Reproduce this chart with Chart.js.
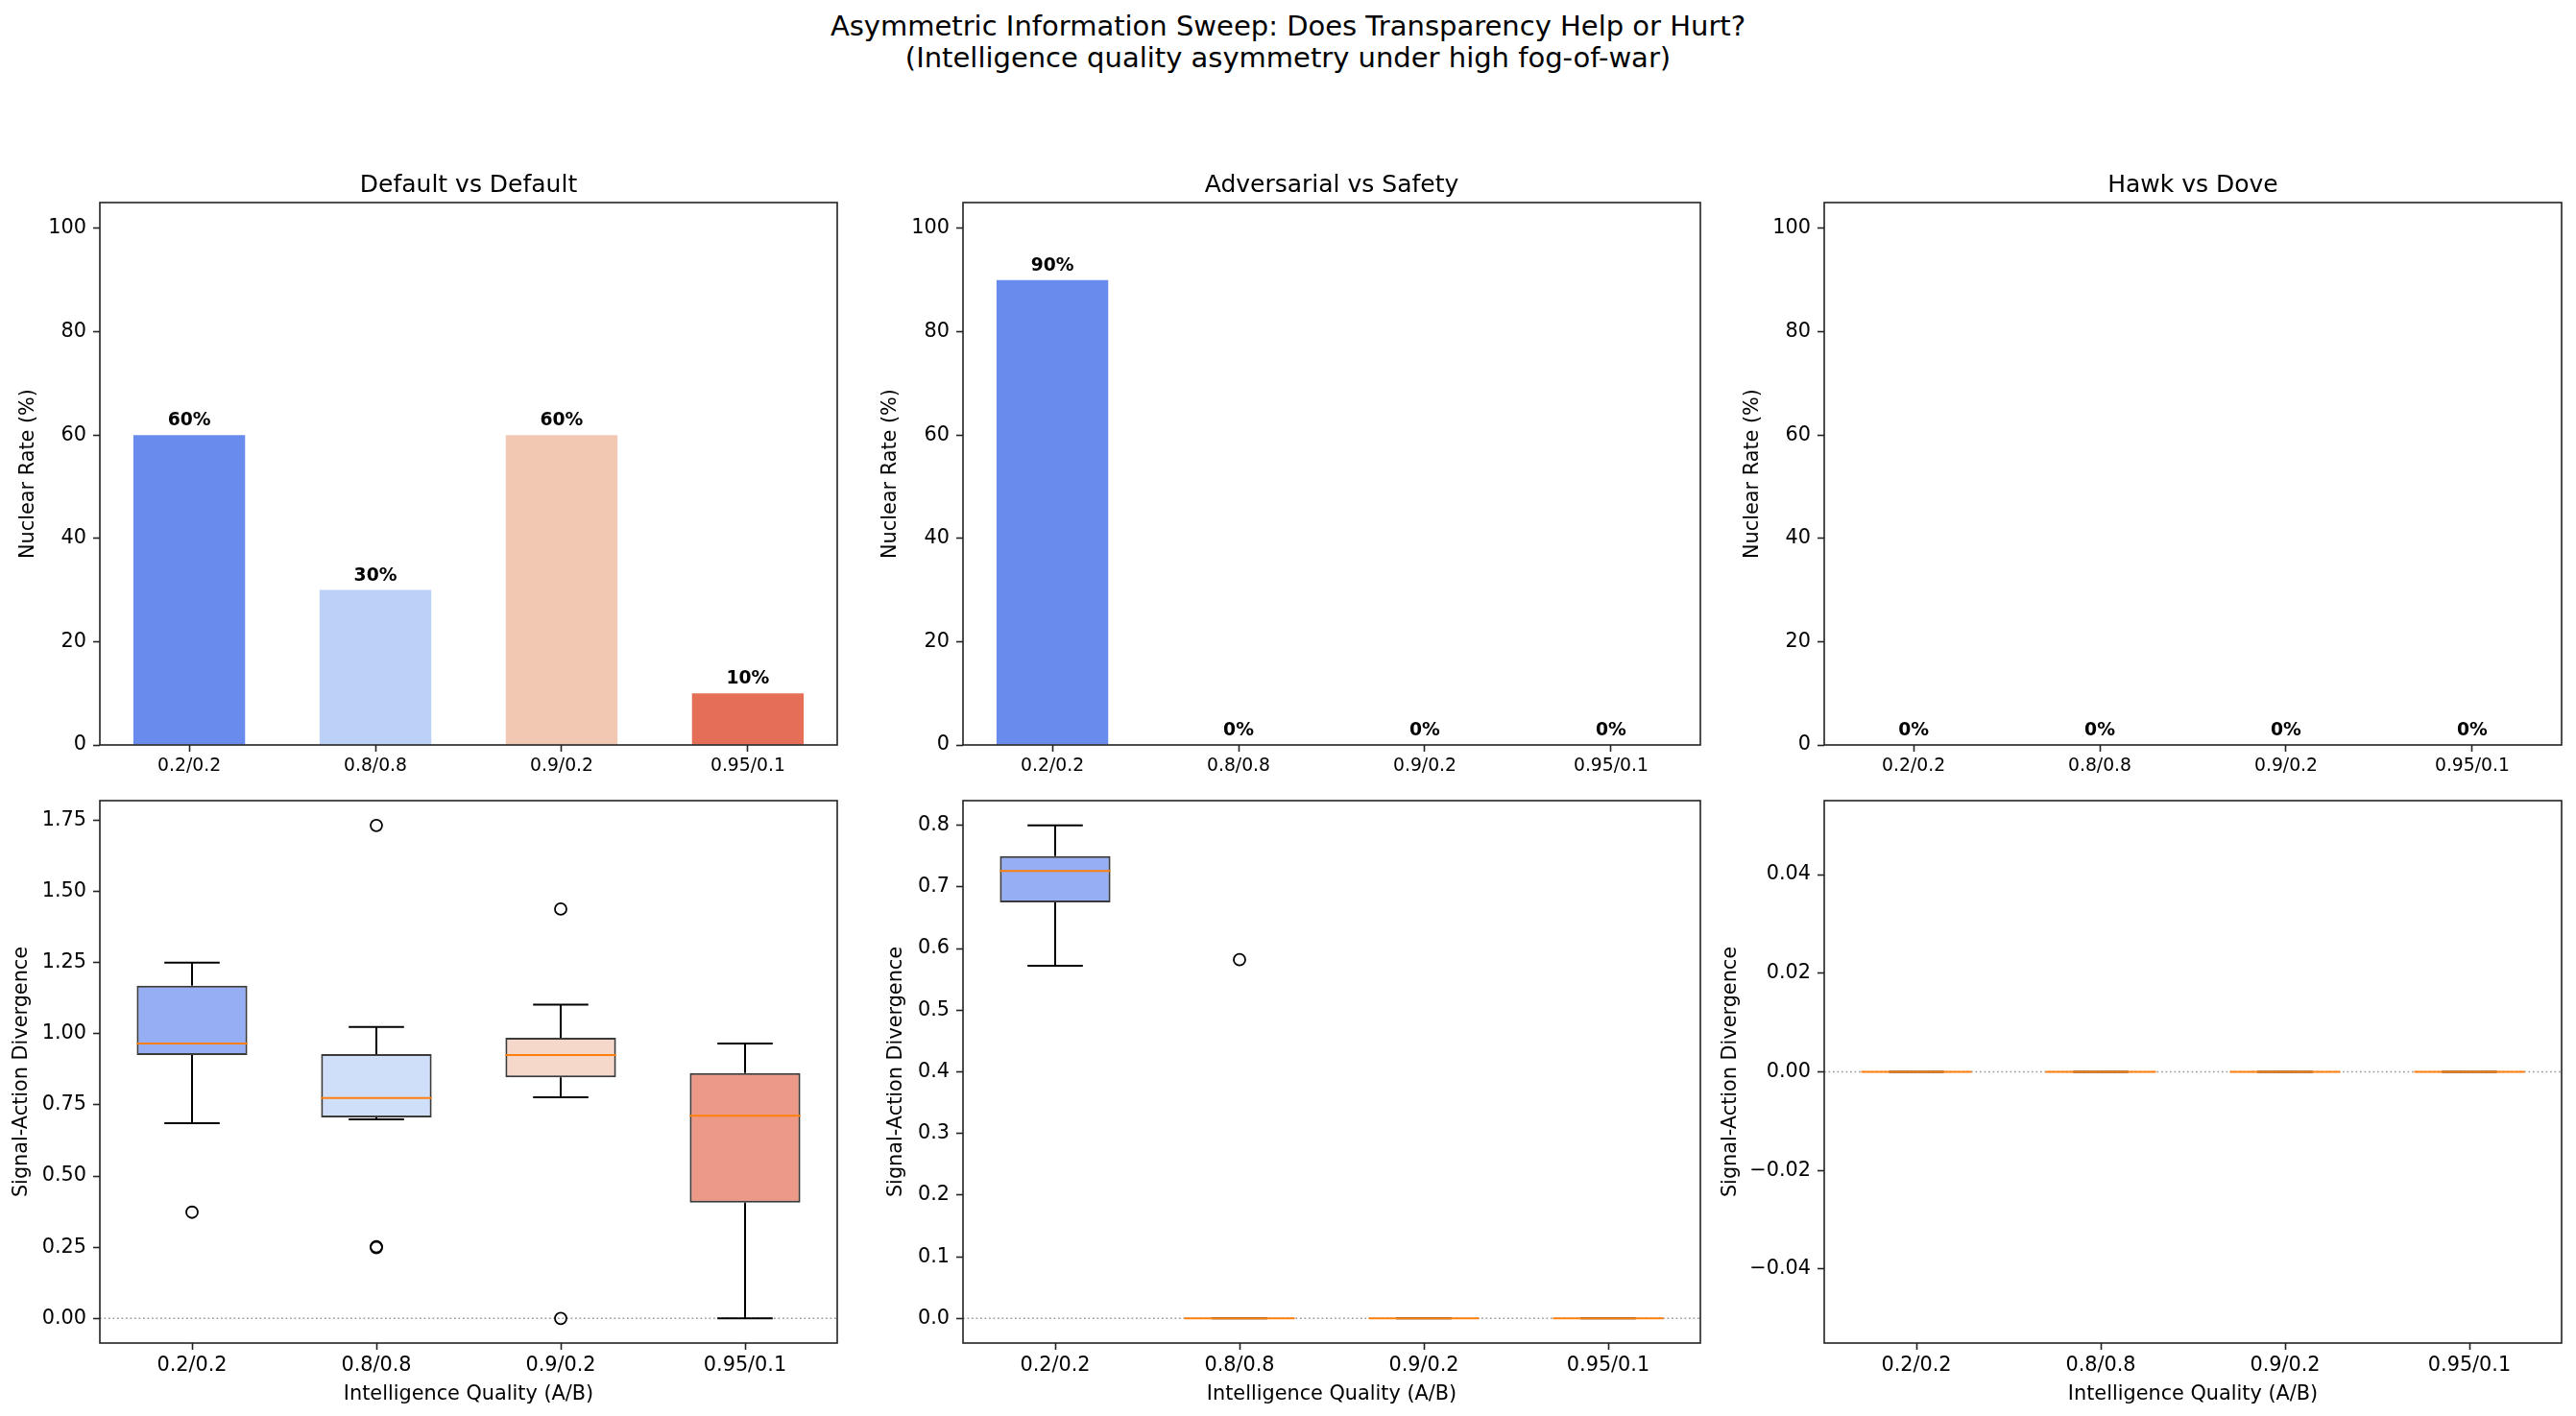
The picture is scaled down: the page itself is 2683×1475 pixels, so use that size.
<!DOCTYPE html>
<html lang="en">
<head>
<meta charset="UTF-8">
<title>Asymmetric Information Sweep</title>
<script src="https://cdn.jsdelivr.net/npm/chart.js"></script>
<style>
  body { margin: 0; background: #fff; width: 2683px; height: 1475px; position: relative; overflow: hidden;
         font-family: "DejaVu Sans", sans-serif; color: #000; }
  .sup { position: absolute; left: 0; top: 11px; width: 2683px; text-align: center; font-size: 29px; line-height: 33px; }
  .ttl { position: absolute; width: 768px; text-align: center; font-size: 25px; line-height: 30px; }
  canvas { position: absolute; }
</style>
</head>
<body>
<div class="sup">Asymmetric Information Sweep: Does Transparency Help or Hurt?<br>(Intelligence quality asymmetry under high fog-of-war)</div>

<script>
// ---- data ----
const pairs = ['0.2/0.2', '0.8/0.8', '0.9/0.2', '0.95/0.1'];
const panelTitles = ['Default vs Default', 'Adversarial vs Safety', 'Hawk vs Dove'];

const nuclearDefault = [60, 30, 60, 10];
const nuclearAdvSafety = [90, 0, 0, 0];
const nuclearHawkDove = [0, 0, 0, 0];
const nuclearTicks = [0, 20, 40, 60, 80, 100];

// signal-action divergence boxes: whisker low, q1, median, q3, whisker high
const divDefaultLow = [0.686, 0.699, 0.777, 0.0];
const divDefaultQ1 = [0.925, 0.706, 0.847, 0.407];
const divDefaultMed = [0.966, 0.774, 0.925, 0.712];
const divDefaultQ3 = [1.169, 0.929, 0.986, 0.862];
const divDefaultHigh = [1.250, 1.024, 1.102, 0.966];
const divDefaultOut = [[0.373], [1.732, 0.249, 0.252], [1.438, 0.0], []];
const divDefaultTicks = [0, 0.25, 0.5, 0.75, 1.0, 1.25, 1.5, 1.75];

const divAdvLow = [0.572, 0, 0, 0];
const divAdvQ1 = [0.675, 0, 0, 0];
const divAdvMed = [0.726, 0, 0, 0];
const divAdvQ3 = [0.750, 0, 0, 0];
const divAdvHigh = [0.800, 0, 0, 0];
const divAdvOut = [[], [0.582], [], []];
const divAdvTicks = [0, 0.1, 0.2, 0.3, 0.4, 0.5, 0.6, 0.7, 0.8];

const divHawkLow = [0, 0, 0, 0];
const divHawkQ1 = [0, 0, 0, 0];
const divHawkMed = [0, 0, 0, 0];
const divHawkQ3 = [0, 0, 0, 0];
const divHawkHigh = [0, 0, 0, 0];
const divHawkOut = [[], [], [], []];
const divHawkTicks = [-0.04, -0.02, 0, 0.02, 0.04];

// ---- look ----
const barColors = ['rgb(106,139,238)', 'rgb(187,209,248)', 'rgb(242,200,179)', 'rgb(228,110,86)'];
const boxColors = ['rgba(106,139,238,0.7)', 'rgba(187,209,248,0.7)', 'rgba(242,200,179,0.7)', 'rgba(228,110,86,0.7)'];

const COLS = [104, 1003, 1900];
const ROWS = [211, 834];
const AX_W = 768, AX_H = 565, PAD_TOP = 40, PAD_RIGHT = 20;

Chart.defaults.font.family = '"DejaVu Sans", sans-serif';
Chart.defaults.color = '#000';

const frame = {
  id: 'frame',
  beforeDatasetsDraw(chart) {
    if (!chart.data.datasets[0].whisk) return;
    const {ctx, chartArea: a, scales: {y}} = chart;
    const py = y.getPixelForValue(0);
    ctx.save();
    ctx.strokeStyle = '#999';
    ctx.lineWidth = 1.6;
    ctx.setLineDash([1.7, 2.8]);
    ctx.beginPath(); ctx.moveTo(a.left, py); ctx.lineTo(a.right, py); ctx.stroke();
    ctx.restore();
  },
  afterDraw(chart) {
    const {ctx, chartArea: a} = chart;
    ctx.save();
    ctx.strokeStyle = '#222';
    ctx.lineWidth = 1.6;
    ctx.strokeRect(a.left, a.top, a.right - a.left, a.bottom - a.top);
    ctx.restore();
  }
};

const whiskers = {
  id: 'whiskers',
  afterDatasetsDraw(chart) {
    const w = chart.data.datasets[0].whisk;
    if (!w) return;
    const {ctx, scales: {x, y}} = chart;
    const half = x.getPixelForValue(1.3) - x.getPixelForValue(1);
    ctx.save();
    w.med.forEach((m, i) => {
      const cx = x.getPixelForValue(i + 1);
      ctx.strokeStyle = '#000';
      ctx.lineWidth = 2;
      ctx.beginPath();
      ctx.moveTo(cx, y.getPixelForValue(w.q3[i])); ctx.lineTo(cx, y.getPixelForValue(w.high[i]));
      ctx.moveTo(cx, y.getPixelForValue(w.q1[i])); ctx.lineTo(cx, y.getPixelForValue(w.low[i]));
      [w.high[i], w.low[i]].forEach(v => {
        const py = y.getPixelForValue(v);
        ctx.moveTo(cx - half / 2, py); ctx.lineTo(cx + half / 2, py);
      });
      ctx.stroke();
      const pm = y.getPixelForValue(m);
      ctx.strokeStyle = '#ff7f0e';
      ctx.beginPath(); ctx.moveTo(cx - half, pm); ctx.lineTo(cx + half, pm); ctx.stroke();
    });
    ctx.restore();
  }
};

const barLabels = {
  id: 'barLabels',
  afterDatasetsDraw(chart) {
    const ds = chart.data.datasets[0];
    if (!ds.pct) return;
    const {ctx, scales: {y}} = chart;
    ctx.save();
    ctx.font = 'bold 18.75px "DejaVu Sans"';
    ctx.fillStyle = '#000';
    ctx.textAlign = 'center';
    ctx.textBaseline = 'bottom';
    chart.getDatasetMeta(0).data.forEach((bar, i) => {
      const v = ds.data[i].y;
      ctx.fillText(v + '%', bar.x, y.getPixelForValue(v + 1));
    });
    ctx.restore();
  }
};

function axisStyle() {
  return {
    grid: {drawOnChartArea: false, drawTicks: true, tickLength: 7, tickColor: '#222', tickWidth: 1.6, offset: false},
    border: {display: false}
  };
}

function makePanel(p) {
  const xh = p.row === 0 ? 45 : 70;
  const cv = document.createElement('canvas');
  cv.width = p.yw + AX_W + PAD_RIGHT;
  cv.height = PAD_TOP + AX_H + xh;
  cv.style.left = (COLS[p.col] - p.yw) + 'px';
  cv.style.top = (ROWS[p.row] - PAD_TOP) + 'px';
  document.body.appendChild(cv);

  const isBar = p.row === 0;
  const first = isBar ? 0 : 1;
  let datasets;
  if (isBar) {
    datasets = [{
      data: p.values.map((v, i) => ({x: i, y: v})),
      backgroundColor: barColors,
      categoryPercentage: 1, barPercentage: 0.6,
      pct: true
    }];
  } else {
    const s = p.stats;
    const outPts = [];
    p.outliers.forEach((arr, i) => arr.forEach(v => outPts.push({x: i + 1, y: v})));
    datasets = [{
      data: pairs.map((_, i) => ({x: i + 1, y: [s.q1[i], s.q3[i]]})),
      backgroundColor: boxColors,
      borderColor: '#3b3b3b', borderWidth: 2, borderSkipped: false,
      categoryPercentage: 1, barPercentage: 0.6,
      whisk: s
    }, {
      type: 'scatter',
      data: outPts,
      pointStyle: 'circle', radius: 6, borderColor: '#000', borderWidth: 1.8,
      backgroundColor: 'rgba(0,0,0,0)'
    }];
  }

  new Chart(cv, {
    type: 'bar',
    data: {datasets},
    options: {
      responsive: false, devicePixelRatio: 1, animation: false, events: [],
      layout: {padding: {top: PAD_TOP, right: PAD_RIGHT, left: 0, bottom: 0}},
      plugins: {legend: {display: false}, tooltip: {enabled: false}},
      scales: {
        x: Object.assign(axisStyle(), {
          type: 'linear', offset: false,
          min: first - p.xPad, max: first + 3 + p.xPad,
          afterBuildTicks: sc => { sc.ticks = pairs.map((_, i) => ({value: first + i})); },
          afterFit: sc => { sc.height = xh; },
          ticks: {callback: v => pairs[Math.round(v) - first], font: {size: isBar ? 18.75 : 20.8},
                  padding: 4, maxRotation: 0, autoSkip: false},
          title: {display: !isBar, text: 'Intelligence Quality (A/B)', font: {size: 20.8}, padding: {top: 0, bottom: 4}}
        }),
        y: Object.assign(axisStyle(), {
          type: 'linear', min: p.yMin, max: p.yMax,
          afterBuildTicks: sc => { sc.ticks = p.yTicks.map(v => ({value: v})); },
          afterFit: sc => { sc.width = p.yw; },
          ticks: {callback: v => p.fmt(v), font: {size: 20.8}, padding: 7},
          title: {display: true, text: isBar ? 'Nuclear Rate (%)' : 'Signal-Action Divergence',
                  font: {size: 20.8}, padding: {top: 0, bottom: 0}}
        })
      }
    },
    plugins: [frame, whiskers, barLabels]
  });

  if (isBar) {
    const t = document.createElement('div');
    t.className = 'ttl';
    t.textContent = panelTitles[p.col];
    t.style.left = COLS[p.col] + 'px';
    t.style.top = '177px';
    document.body.appendChild(t);
  }
}

const intFmt = v => String(Math.round(v));
const dec = n => v => v.toFixed(n).replace('-', '\u2212');

makePanel({col: 0, row: 0, values: nuclearDefault, yMin: 0, yMax: 105, yTicks: nuclearTicks, fmt: intFmt, xPad: 0.48, yw: 87});
makePanel({col: 1, row: 0, values: nuclearAdvSafety, yMin: 0, yMax: 105, yTicks: nuclearTicks, fmt: intFmt, xPad: 0.48, yw: 88});
makePanel({col: 2, row: 0, values: nuclearHawkDove, yMin: 0, yMax: 105, yTicks: nuclearTicks, fmt: intFmt, xPad: 0.48, yw: 87});

makePanel({col: 0, row: 1, xPad: 0.5, yw: 94, yMin: -0.0866, yMax: 1.819, yTicks: divDefaultTicks, fmt: dec(2),
  stats: {low: divDefaultLow, q1: divDefaultQ1, med: divDefaultMed, q3: divDefaultQ3, high: divDefaultHigh},
  outliers: divDefaultOut});
makePanel({col: 1, row: 1, xPad: 0.5, yw: 82, yMin: -0.04, yMax: 0.84, yTicks: divAdvTicks, fmt: dec(1),
  stats: {low: divAdvLow, q1: divAdvQ1, med: divAdvMed, q3: divAdvQ3, high: divAdvHigh},
  outliers: divAdvOut});
makePanel({col: 2, row: 1, xPad: 0.5, yw: 110, yMin: -0.055, yMax: 0.055, yTicks: divHawkTicks, fmt: dec(2),
  stats: {low: divHawkLow, q1: divHawkQ1, med: divHawkMed, q3: divHawkQ3, high: divHawkHigh},
  outliers: divHawkOut});
</script>
</body>
</html>
